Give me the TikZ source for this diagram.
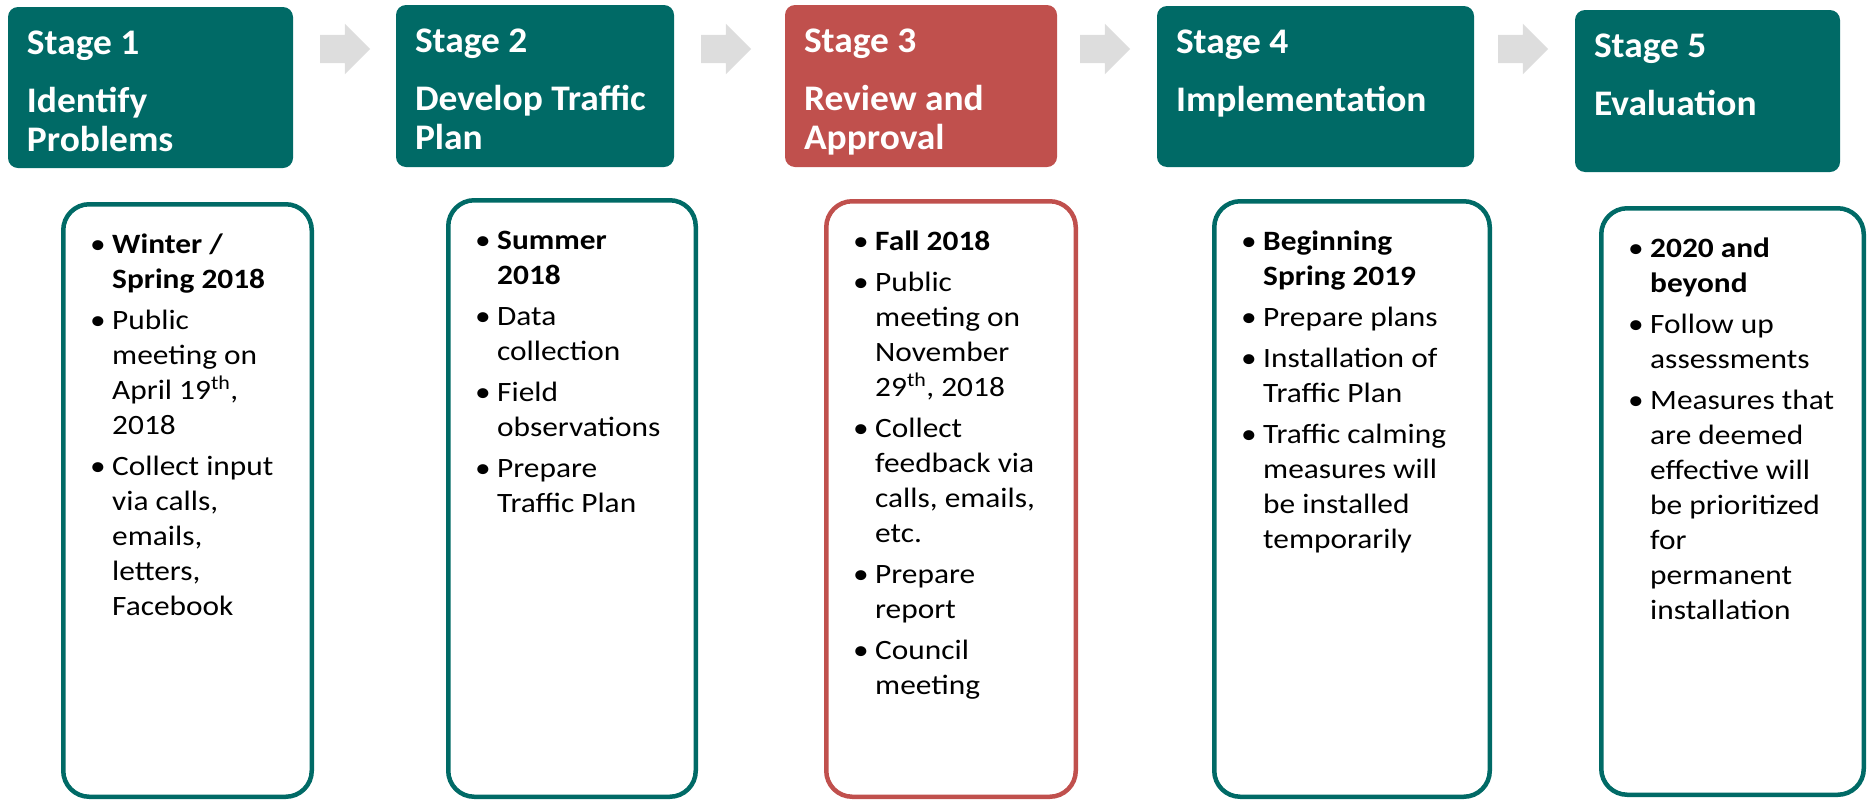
\documentclass[tikz,border=0pt]{standalone}
\usepackage{fontspec}
\setmainfont{Carlito}
\newfontfamily\hdrfont[FakeStretch=1.04]{Carlito}
\newfontfamily\bodyfont[FakeStretch=1.12]{Carlito}
\usetikzlibrary{shapes.arrows}
\definecolor{stageteal}{HTML}{006A66}
\definecolor{stagered}{HTML}{C0504D}
\definecolor{arrowgray}{HTML}{DDDDDD}
\newcommand{\bitem}{\makebox[22pt][l]{\textbullet}}

\begin{document}
\begin{tikzpicture}[x=1pt,y=-1pt,
    hdr/.style={rounded corners=10pt,inner sep=0pt},
    hdrtxt/.style={anchor=base west,inner sep=0pt,text=white,font=\hdrfont\fontsize{36}{39}\selectfont\bfseries},
    bodybox/.style={draw,line width=4.5pt,rounded corners=26pt,inner sep=0pt},
    bodytxt/.style={anchor=base west,inner sep=0pt,font=\bodyfont\fontsize{28}{35}\selectfont},
    stagearrow/.style={single arrow,fill=arrowgray,inner xsep=0pt,inner ysep=14pt,minimum height=50pt,single arrow head extend=11pt,single arrow tip angle=90}]
  \useasboundingbox (0,0) rectangle (1868,801);

  \node[hdr,fill=stageteal,minimum width=285pt,minimum height=161pt] (h1) at (150.5,87.5) {};
  \node[hdr,fill=stageteal,minimum width=278pt,minimum height=162pt] (h2) at (535,86) {};
  \node[hdr,fill=stagered,minimum width=272pt,minimum height=162pt] (h3) at (921,86) {};
  \node[hdr,fill=stageteal,minimum width=317pt,minimum height=161pt] (h4) at (1315.5,86.5) {};
  \node[hdr,fill=stageteal,minimum width=265pt,minimum height=162pt] (h5) at (1707.5,91) {};

  \node[hdrtxt] (ht1) at ([shift={(19,48)}]h1.north west) {\begin{tabular}[t]{@{}l@{}}Stage 1\\[19pt]Identify\\Problems\end{tabular}};
  \node[hdrtxt] (ht2) at ([shift={(19,48)}]h2.north west) {\begin{tabular}[t]{@{}l@{}}Stage 2\\[19pt]Develop Traffic\\Plan\end{tabular}};
  \node[hdrtxt] (ht3) at ([shift={(19,48)}]h3.north west) {\begin{tabular}[t]{@{}l@{}}Stage 3\\[19pt]Review and\\Approval\end{tabular}};
  \node[hdrtxt] (ht4) at ([shift={(19,48)}]h4.north west) {\begin{tabular}[t]{@{}l@{}}Stage 4\\[19pt]Implementation\end{tabular}};
  \node[hdrtxt] (ht5) at ([shift={(19,48)}]h5.north west) {\begin{tabular}[t]{@{}l@{}}Stage 5\\[19pt]Evaluation\end{tabular}};

  \node[stagearrow] (a1) at (338,49) {};
  \node[stagearrow] (a2) at (719,49) {};
  \node[stagearrow] (a3) at (1098,49) {};
  \node[stagearrow] (a4) at (1516,49) {};

  \node[bodybox,draw=stageteal,minimum width=248.5pt,minimum height=592.5pt] (b1) at (187.5,500.5) {};
  \node[bodybox,draw=stageteal,minimum width=247.5pt,minimum height=596.5pt] (b2) at (572,498.5) {};
  \node[bodybox,draw=stagered,minimum width=249.5pt,minimum height=595.5pt] (b3) at (951,499) {};
  \node[bodybox,draw=stageteal,minimum width=275.5pt,minimum height=595.5pt] (b4) at (1352,499) {};
  \node[bodybox,draw=stageteal,minimum width=262.5pt,minimum height=586.5pt] (b5) at (1732.5,501.5) {};

  \node[bodytxt] (t1) at ([shift={(29,51)}]b1.north west) {\begin{tabular}[t]{@{}l@{}l@{}}
    \bitem & \textbf{Winter /}\\
           & \textbf{Spring 2018}\\[6pt]
    \bitem & Public\\
           & meeting on\\
           & April 19\textsuperscript{th},\\
           & 2018\\[6pt]
    \bitem & Collect input\\
           & via calls,\\
           & emails,\\
           & letters,\\
           & Facebook
  \end{tabular}};
  \node[bodytxt] (t2) at ([shift={(29,51)}]b2.north west) {\begin{tabular}[t]{@{}l@{}l@{}}
    \bitem & \textbf{Summer}\\
           & \textbf{2018}\\[6pt]
    \bitem & Data\\
           & collection\\[6pt]
    \bitem & Field\\
           & observations\\[6pt]
    \bitem & Prepare\\
           & Traffic Plan
  \end{tabular}};
  \node[bodytxt] (t3) at ([shift={(29,51)}]b3.north west) {\begin{tabular}[t]{@{}l@{}l@{}}
    \bitem & \textbf{Fall 2018}\\[6pt]
    \bitem & Public\\
           & meeting on\\
           & November\\
           & 29\textsuperscript{th}, 2018\\[6pt]
    \bitem & Collect\\
           & feedback via\\
           & calls, emails,\\
           & etc.\\[6pt]
    \bitem & Prepare\\
           & report\\[6pt]
    \bitem & Council\\
           & meeting
  \end{tabular}};
  \node[bodytxt] (t4) at ([shift={(29,51)}]b4.north west) {\begin{tabular}[t]{@{}l@{}l@{}}
    \bitem & \textbf{Beginning}\\
           & \textbf{Spring 2019}\\[6pt]
    \bitem & Prepare plans\\[6pt]
    \bitem & Installation of\\
           & Traffic Plan\\[6pt]
    \bitem & Traffic calming\\
           & measures will\\
           & be installed\\
           & temporarily
  \end{tabular}};
  \node[bodytxt] (t5) at ([shift={(29,51)}]b5.north west) {\begin{tabular}[t]{@{}l@{}l@{}}
    \bitem & \textbf{2020 and}\\
           & \textbf{beyond}\\[6pt]
    \bitem & Follow up\\
           & assessments\\[6pt]
    \bitem & Measures that\\
           & are deemed\\
           & effective will\\
           & be prioritized\\
           & for\\
           & permanent\\
           & installation
  \end{tabular}};
\end{tikzpicture}
\end{document}
